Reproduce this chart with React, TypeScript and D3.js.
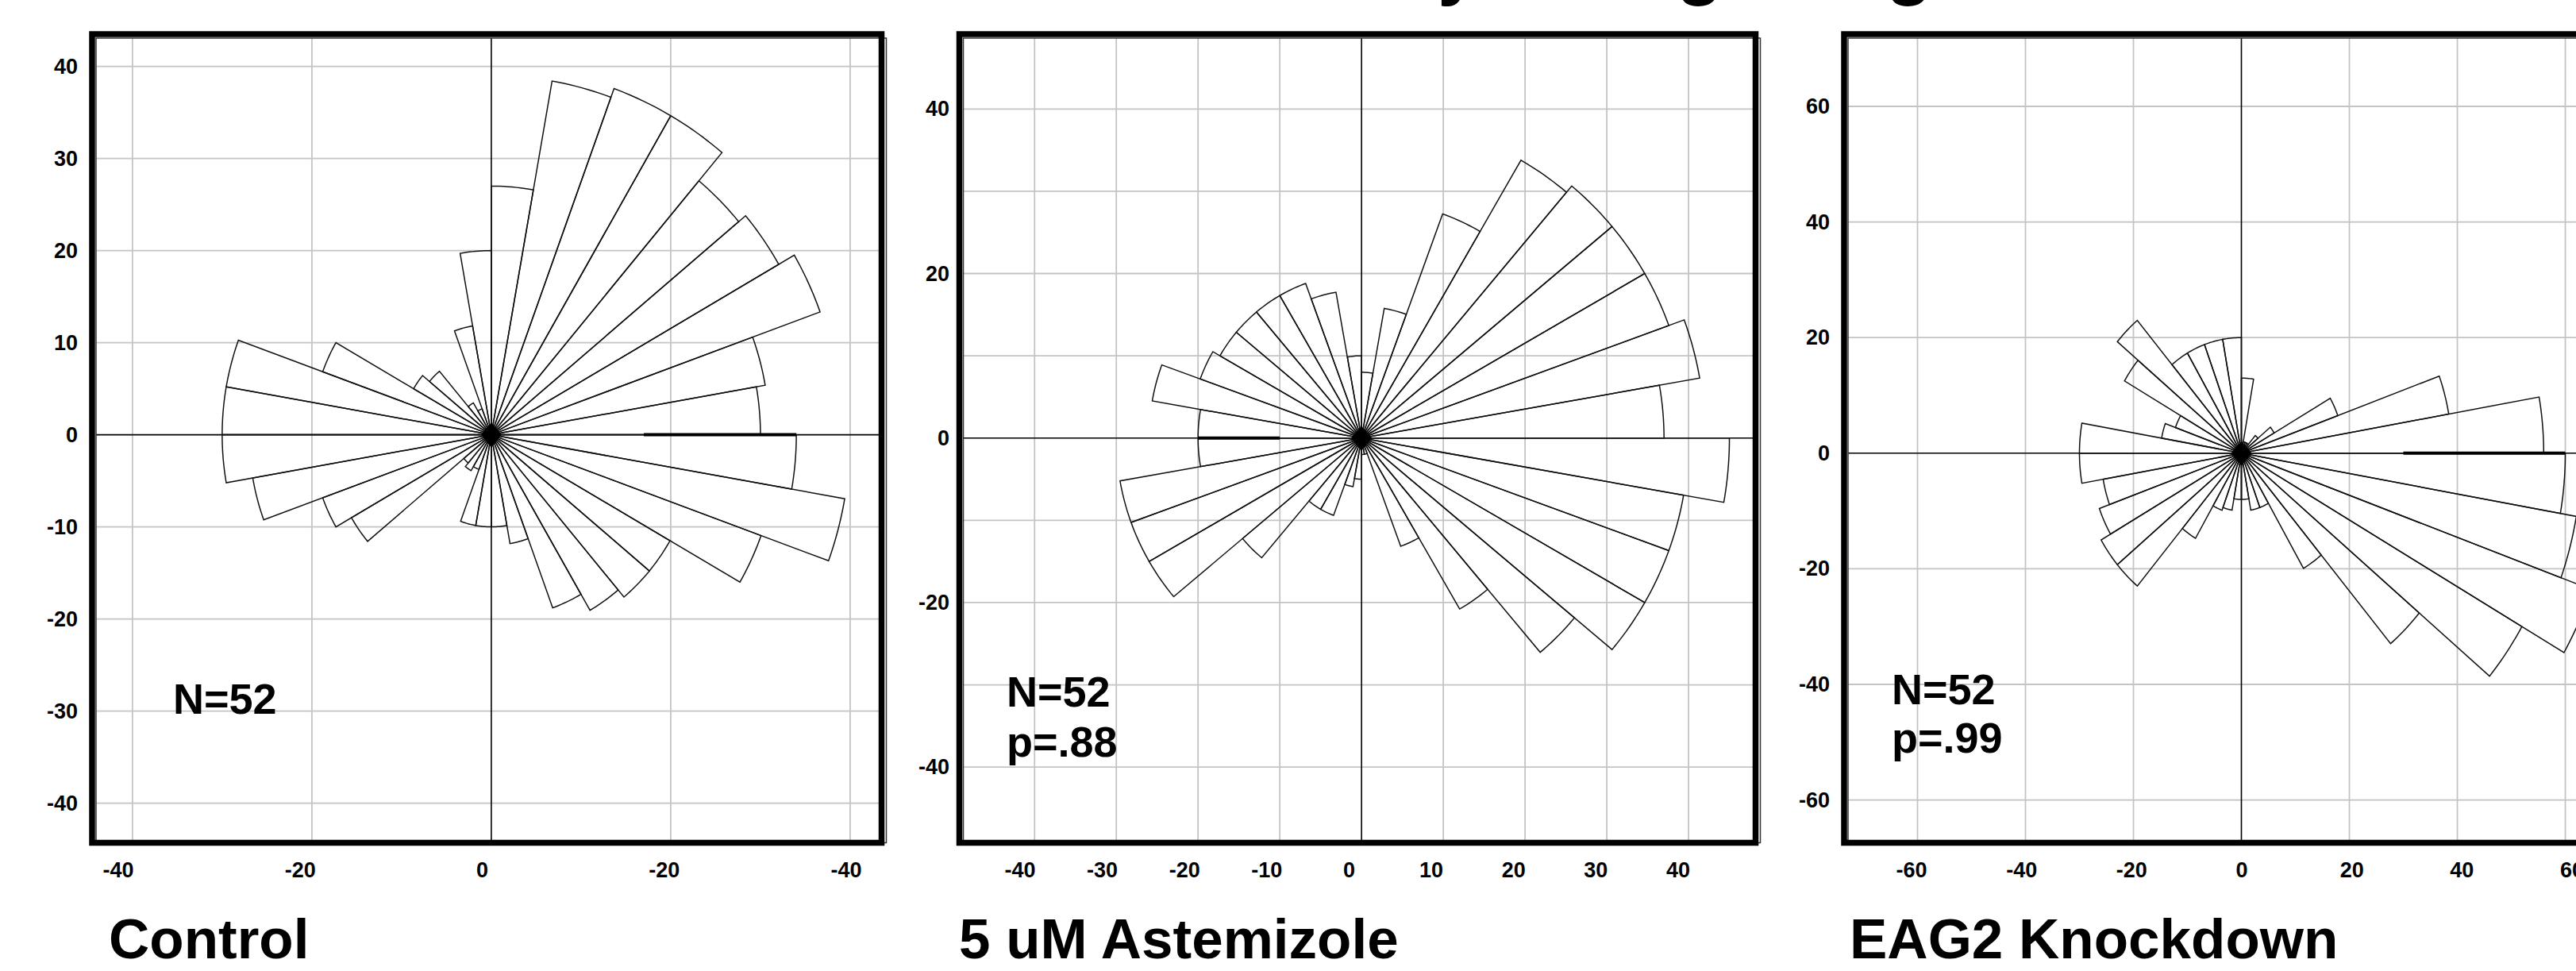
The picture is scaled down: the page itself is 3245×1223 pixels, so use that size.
import React from "react";
import * as d3 from "d3";

// ---------- data ----------
const binStartDeg = d3.range(0, 360, 10); // 36 bins, 10 degrees each
const binWidthDeg = 10;

const controlRadii = [30, 31, 39, 37, 36, 40, 40, 39, 27, 20, 12, 3, 4, 9, 10, 20, 30, 30, 30, 27, 20, 18, 4, 4.5, 4, 10, 10, 10, 12, 20, 22, 23, 23, 32, 40, 34];
const astemizoleRadii = [37, 42, 40, 40, 40, 39, 29, 16, 8, 10, 18, 20, 20, 20, 20, 21, 26, 20, 20, 30, 30, 30, 19, 10, 10, 6, 5, 2, 2, 14, 24, 34, 40, 40, 40, 45];
const eag2Radii = [56, 39, 19, 7, 4, 2, 2, 2, 13, 20, 20, 20, 20, 30, 25, 13, 15, 30, 30, 26, 28, 30, 30, 17, 10.5, 10, 8, 8, 10, 10, 23, 43, 60, 69, 63, 60];

// overdrawn heavy edge segment [angleDeg, r0, r1]
const controlHeavy = [0, 17, 34];
const astemizoleHeavy = [180, 10, 20];
const eag2Heavy = [0, 30, 60];

const controlXTicks = [-40, -20, 0, 20, 40];
const controlXTickLabels = ["-40", "-20", "0", "-20", "-40"];
const controlYTicks = [40, 30, 20, 10, 0, -10, -20, -30, -40];
const controlXGrid = [-40, -20, 20, 40];
const controlYGrid = [-40, -30, -20, -10, 10, 20, 30, 40];

const astemizoleXTicks = [-40, -30, -20, -10, 0, 10, 20, 30, 40];
const astemizoleYTicks = [40, 20, 0, -20, -40];
const astemizoleGrid = [-40, -30, -20, -10, 10, 20, 30, 40];

const eag2Ticks = [-60, -40, -20, 0, 20, 40, 60];
const eag2Grid = [-60, -40, -20, 20, 40, 60];

const panelTitles = ["Control", "5 uM Astemizole", "EAG2 Knockdown"];
const panelStats = [["N=52"], ["N=52", "p=.88"], ["N=52", "p=.99"]];
const figureTitle = "Directionality of Migrating Cells";

// ---------- layout ----------
const W = 3245;
const H = 1223;
const FONT = "'Liberation Sans', Arial, Helvetica, sans-serif";

type Panel = {
  frame: { l: number; r: number; t: number; b: number };
  xDomain: [number, number];
  yDomain: [number, number];
  radii: number[];
  heavy: number[];
  xTicks: number[];
  xTickLabels: string[];
  xLabelDomain: [number, number];
  xLabelRange: [number, number];
  yTicks: number[];
  yLabelX: number;
  xGrid: number[];
  yGrid: number[];
  statsPos: [number, number];
  statsGap: number;
  titlePos: [number, number];
};

const panels: Panel[] = [
  {
    frame: { l: 116, r: 1110.5, t: 43, b: 1061.5 },
    xDomain: [-44.5, 43.5],
    yDomain: [43.5, -44.3],
    radii: controlRadii,
    heavy: controlHeavy,
    xTicks: controlXTicks,
    xTickLabels: controlXTickLabels,
    xLabelDomain: [-40, 40],
    xLabelRange: [149, 1066],
    yTicks: controlYTicks,
    yLabelX: 98,
    xGrid: controlXGrid,
    yGrid: controlYGrid,
    statsPos: [218, 899],
    statsGap: 63,
    titlePos: [137, 1207],
  },
  {
    frame: { l: 1208.5, r: 2211.5, t: 43, b: 1061.5 },
    xDomain: [-49.2, 48.2],
    yDomain: [49.1, -49.2],
    radii: astemizoleRadii,
    heavy: astemizoleHeavy,
    xTicks: astemizoleXTicks,
    xTickLabels: astemizoleXTicks.map(String),
    xLabelDomain: [-40, 40],
    xLabelRange: [1285, 2114],
    yTicks: astemizoleYTicks,
    yLabelX: 1196,
    xGrid: astemizoleGrid,
    yGrid: astemizoleGrid,
    statsPos: [1268, 890],
    statsGap: 63,
    titlePos: [1208, 1207],
  },
  {
    frame: { l: 2323, r: 3324, t: 43, b: 1061.5 },
    xDomain: [-73.6, 73.6],
    yDomain: [72.5, -67.4],
    radii: eag2Radii,
    heavy: eag2Heavy,
    xTicks: eag2Ticks,
    xTickLabels: eag2Ticks.map(String),
    xLabelDomain: [-60, 60],
    xLabelRange: [2408, 3240],
    yTicks: eag2Ticks,
    yLabelX: 2305,
    xGrid: eag2Grid,
    yGrid: eag2Grid,
    statsPos: [2383, 887],
    statsGap: 61,
    titlePos: [2330, 1207],
  },
];

const rad = (deg: number) => (deg * Math.PI) / 180;

function PanelView({ p, idx }: { p: Panel; idx: number }) {
  const { frame } = p;
  const x = d3.scaleLinear().domain(p.xDomain).range([frame.l, frame.r]);
  const y = d3.scaleLinear().domain(p.yDomain).range([frame.t, frame.b]);
  const xl = d3.scaleLinear().domain(p.xLabelDomain).range(p.xLabelRange);
  const line = d3
    .line<[number, number]>()
    .x((d) => x(d[0]))
    .y((d) => y(d[1]));

  const petals = binStartDeg.map((a0, i) => {
    const r = p.radii[i];
    const steps = 10;
    const pts: [number, number][] = [[0, 0]];
    for (let k = 0; k <= steps; k++) {
      const a = rad(a0 + (binWidthDeg * k) / steps);
      pts.push([r * Math.cos(a), r * Math.sin(a)]);
    }
    pts.push([0, 0]);
    return line(pts) as string;
  });

  const inner = { l: frame.l + 5, r: frame.r + 6, t: frame.t + 5, b: frame.b };
  const [ha, h0, h1] = p.heavy;

  return (
    <g>
      {/* grid */}
      <g stroke="#c4c4c4" strokeWidth={1.8}>
        {p.xGrid.map((v) => (
          <line key={"gx" + v} x1={x(v)} x2={x(v)} y1={inner.t} y2={frame.b} />
        ))}
        {p.yGrid.map((v) => (
          <line key={"gy" + v} x1={inner.l} x2={frame.r} y1={y(v)} y2={y(v)} />
        ))}
      </g>
      {/* axes through origin */}
      <g stroke="#000" strokeWidth={1.6}>
        <line x1={x(0)} x2={x(0)} y1={inner.t} y2={frame.b} />
        <line x1={inner.l} x2={frame.r} y1={y(0)} y2={y(0)} />
      </g>
      {/* petals */}
      <g fill="none" stroke="#111" strokeWidth={1.5} strokeLinejoin="miter">
        {petals.map((d, i) => (
          <path key={i} d={d} />
        ))}
      </g>
      <line
        x1={x(h0 * Math.cos(rad(ha)))}
        y1={y(h0 * Math.sin(rad(ha)))}
        x2={x(h1 * Math.cos(rad(ha)))}
        y2={y(h1 * Math.sin(rad(ha)))}
        stroke="#000"
        strokeWidth={4}
      />
      <circle cx={x(0)} cy={y(0)} r={10} fill="#000" />
      <path
        d={`M${x(0)},${y(0) - 15} L${x(0) + 13},${y(0)} L${x(0)},${y(0) + 16} L${x(0) - 13},${y(0)} Z`}
        fill="#000"
      />
      {/* frame */}
      <rect
        x={inner.l}
        y={inner.t}
        width={inner.r - inner.l}
        height={inner.b - inner.t}
        fill="none"
        stroke="#333"
        strokeWidth={1.5}
      />
      <rect
        x={frame.l}
        y={frame.t}
        width={frame.r - frame.l}
        height={frame.b - frame.t}
        fill="none"
        stroke="#000"
        strokeWidth={7.5}
      />
      {/* tick labels */}
      <g fontFamily={FONT} fontWeight="bold" fontSize={27} fill="#000">
        {p.xTicks.map((v, i) => (
          <text key={"xt" + i} x={xl(v)} y={1105} textAnchor="middle">
            {p.xTickLabels[i]}
          </text>
        ))}
        {p.yTicks.map((v) => (
          <text key={"yt" + v} x={p.yLabelX} y={y(v) + 9} textAnchor="end">
            {String(v)}
          </text>
        ))}
      </g>
      {/* stats */}
      <g fontFamily={FONT} fontWeight="bold" fontSize={54} fill="#000">
        {panelStats[idx].map((s, i) => (
          <text key={s} x={p.statsPos[0]} y={p.statsPos[1] + i * p.statsGap}>
            {s}
          </text>
        ))}
      </g>
      <text
        x={p.titlePos[0]}
        y={p.titlePos[1]}
        fontFamily={FONT}
        fontWeight="bold"
        fontSize={71}
        fill="#000"
      >
        {panelTitles[idx]}
      </text>
    </g>
  );
}

export default function App() {
  return (
    <svg
      width={W}
      height={H}
      viewBox={`0 0 ${W} ${H}`}
      style={{ position: "absolute", left: 0, top: 0, background: "#fff", display: "block" }}
    >
      <rect x={0} y={0} width={W} height={H} fill="#fff" />
      <text x={1262} y={-12} fontFamily={FONT} fontWeight="bold" fontSize={95} fill="#000">
        {figureTitle}
      </text>
      {panels.map((p, i) => (
        <PanelView key={i} p={p} idx={i} />
      ))}
    </svg>
  );
}
